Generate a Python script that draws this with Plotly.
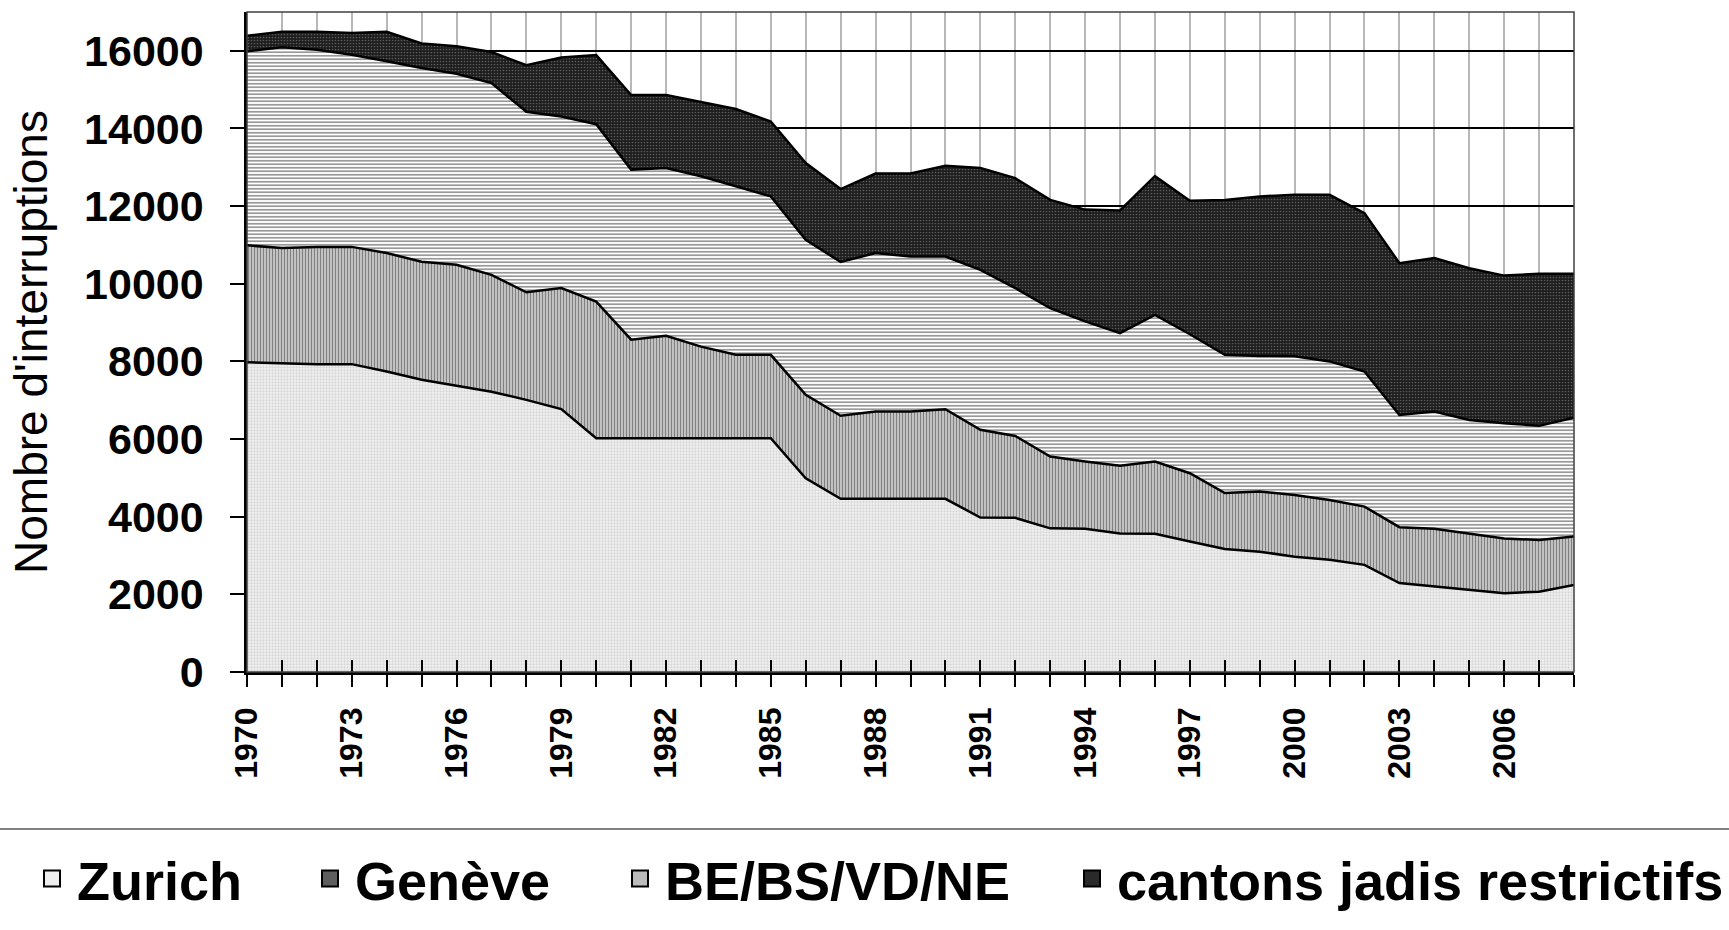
import plotly.graph_objects as go

years = list(range(1970, 2009))

zurich = [7980, 7960, 7930, 7930, 7740, 7530, 7380, 7220, 7010, 6770,
          6020, 6020, 6020, 6020, 6020, 6020, 4990, 4460, 4460, 4460,
          4460, 3980, 3970, 3700, 3690, 3570, 3560, 3360, 3170, 3100,
          2970, 2890, 2760, 2290, 2200, 2110, 2030, 2070, 2240]
geneve = [3010, 2960, 3020, 3020, 3050, 3040, 3110, 3010, 2770, 3120,
          3520, 2540, 2640, 2360, 2150, 2150, 2150, 2140, 2250, 2250,
          2310, 2260, 2110, 1850, 1730, 1740, 1860, 1760, 1440, 1550,
          1590, 1540, 1500, 1440, 1490, 1460, 1410, 1330, 1250]
be_bs_vd_ne = [5000, 5170, 5080, 4950, 4940, 4990, 4920, 4940, 4650, 4420,
               4570, 4380, 4320, 4390, 4340, 4080, 3990, 3960, 4080, 3990,
               3930, 4120, 3810, 3820, 3610, 3420, 3780, 3580, 3560, 3490,
               3570, 3570, 3480, 2890, 3020, 2920, 2970, 2940, 3060]
cantons = [400, 400, 460, 560, 760, 630, 710, 800, 1200, 1520,
           1780, 1920, 1880, 1910, 1990, 1930, 1980, 1880, 2050, 2140,
           2340, 2620, 2830, 2790, 2880, 3160, 3570, 3440, 3990, 4110,
           4160, 4290, 4080, 3910, 3950, 3910, 3800, 3920, 3710]

series_names = ["Zurich", "Genève", "BE/BS/VD/NE", "cantons jadis restrictifs"]
x_tick_labels = [str(y) if (y - 1970) % 3 == 0 else "" for y in years]
y_tick_vals = list(range(0, 16001, 2000))

FONT = "Liberation Sans, Arial, sans-serif"

patterns = [
    dict(shape=".", fgcolor="#b8b8b8", bgcolor="#f2f2f2", size=3, solidity=0.45),
    dict(shape="|", fgcolor="#000000", bgcolor="#ffffff", size=3, solidity=0.65),
    dict(shape="-", fgcolor="#000000", bgcolor="#ffffff", size=3.5, solidity=0.4),
    dict(shape=".", fgcolor="#9a9a9a", bgcolor="#1c1c1c", size=3, solidity=0.25),
]
legend_colors = ["#eeeeee", "#5e5e5e", "#bcbcbc", "#2a2a2a"]
values = [zurich, geneve, be_bs_vd_ne, cantons]

# plot area in pixels: left 247, right 1574, top 12, bottom 672
L, R, T, B = 247, 155, 12, 258
W, H = 1729, 930
pw, ph = W - L - R, H - T - B

def px_x(p):
    return (p - L) / pw

def px_y(p):
    return (H - B - p) / ph

legend_x = [27, 305, 615, 1067]
legend_ids = ["legend", "legend2", "legend3", "legend4"]

fig = go.Figure()
for i, (name, vals, pat) in enumerate(zip(series_names, values, patterns)):
    fig.add_trace(go.Scatter(
        x=years, y=vals, name=name, mode="lines",
        stackgroup="one",
        line=dict(color="#000000", width=2.5),
        fillpattern=pat,
        fillcolor=pat["bgcolor"],
        legendgroup=name, showlegend=False,
        hoverinfo="x+y+name",
    ))
# legend entries (square swatches), placed on the overlay axis
for i, name in enumerate(series_names):
    fig.add_trace(go.Scatter(
        x=[None], y=[None], name=name, mode="markers",
        xaxis="x2", yaxis="y",
        marker=dict(symbol="square", size=16, color=legend_colors[i],
                    line=dict(color="#000000", width=2)),
        legendgroup=name, showlegend=True,
        legend=legend_ids[i],
    ))

legend_common = dict(
    orientation="h", yanchor="middle", xanchor="left",
    xref="container", yref="container",
    y=1 - 879 / H,
    font=dict(family=FONT, size=54, color="#000000", weight="bold"),
    bgcolor="rgba(0,0,0,0)", itemwidth=40,
)

fig.update_layout(
    width=W, height=H,
    margin=dict(l=L, r=R, t=T, b=B, autoexpand=False),
    paper_bgcolor="#ffffff", plot_bgcolor="#ffffff",
    font=dict(family=FONT, color="#000000"),
    showlegend=True,
    legend=dict(x=legend_x[0] / W, **legend_common),
    legend2=dict(x=legend_x[1] / W, **legend_common),
    legend3=dict(x=legend_x[2] / W, **legend_common),
    legend4=dict(x=legend_x[3] / W, **legend_common),
    xaxis=dict(
        range=[1970, 2008], tickvals=years, ticktext=x_tick_labels,
        tickangle=-90, ticks="outside", ticklen=12, tickwidth=1.5, tickcolor="#000000",
        tickfont=dict(family=FONT, size=32, color="#000000", weight="bold"),
        ticklabelstandoff=8,
        showgrid=True, gridcolor="#b8b8b8", gridwidth=1.5,
        showline=True, linecolor="#000000", linewidth=2.5, mirror=False,
        zeroline=False, layer="above traces",
    ),
    xaxis2=dict(
        overlaying="x", anchor="y", side="bottom",
        range=[1970, 2008], tickvals=years, ticks="inside", ticklen=12,
        tickwidth=1.5, tickcolor="#000000", showticklabels=False,
        showgrid=False, showline=False, zeroline=False,
    ),
    yaxis=dict(
        range=[0, 17000], tickvals=y_tick_vals, tickformat="d",
        ticks="outside", ticklen=14, tickwidth=1.5, tickcolor="#000000",
        tickfont=dict(family=FONT, size=43, color="#000000", weight="bold"),
        ticklabelstandoff=18,
        showgrid=True, gridcolor="#000000", gridwidth=1.5,
        showline=True, linecolor="#000000", linewidth=2.5,
        zeroline=False,
        title=dict(text="Nombre d'interruptions",
                   font=dict(family=FONT, size=46, color="#000000"),
                   standoff=22),
    ),
    shapes=[
        dict(type="line", xref="paper", yref="paper",
             x0=px_x(0), x1=px_x(W), y0=px_y(829), y1=px_y(829),
             line=dict(color="#808080", width=2)),
        dict(type="rect", xref="paper", yref="paper",
             x0=0, x1=1, y0=0, y1=1,
             line=dict(color="#404040", width=1.5), layer="above"),
    ],
)

fig.write_html(
    "out.html",
    config={"displayModeBar": False},
    post_script="document.body.style.margin='0';document.body.style.padding='0';"
                "document.body.style.overflow='hidden';",
)
